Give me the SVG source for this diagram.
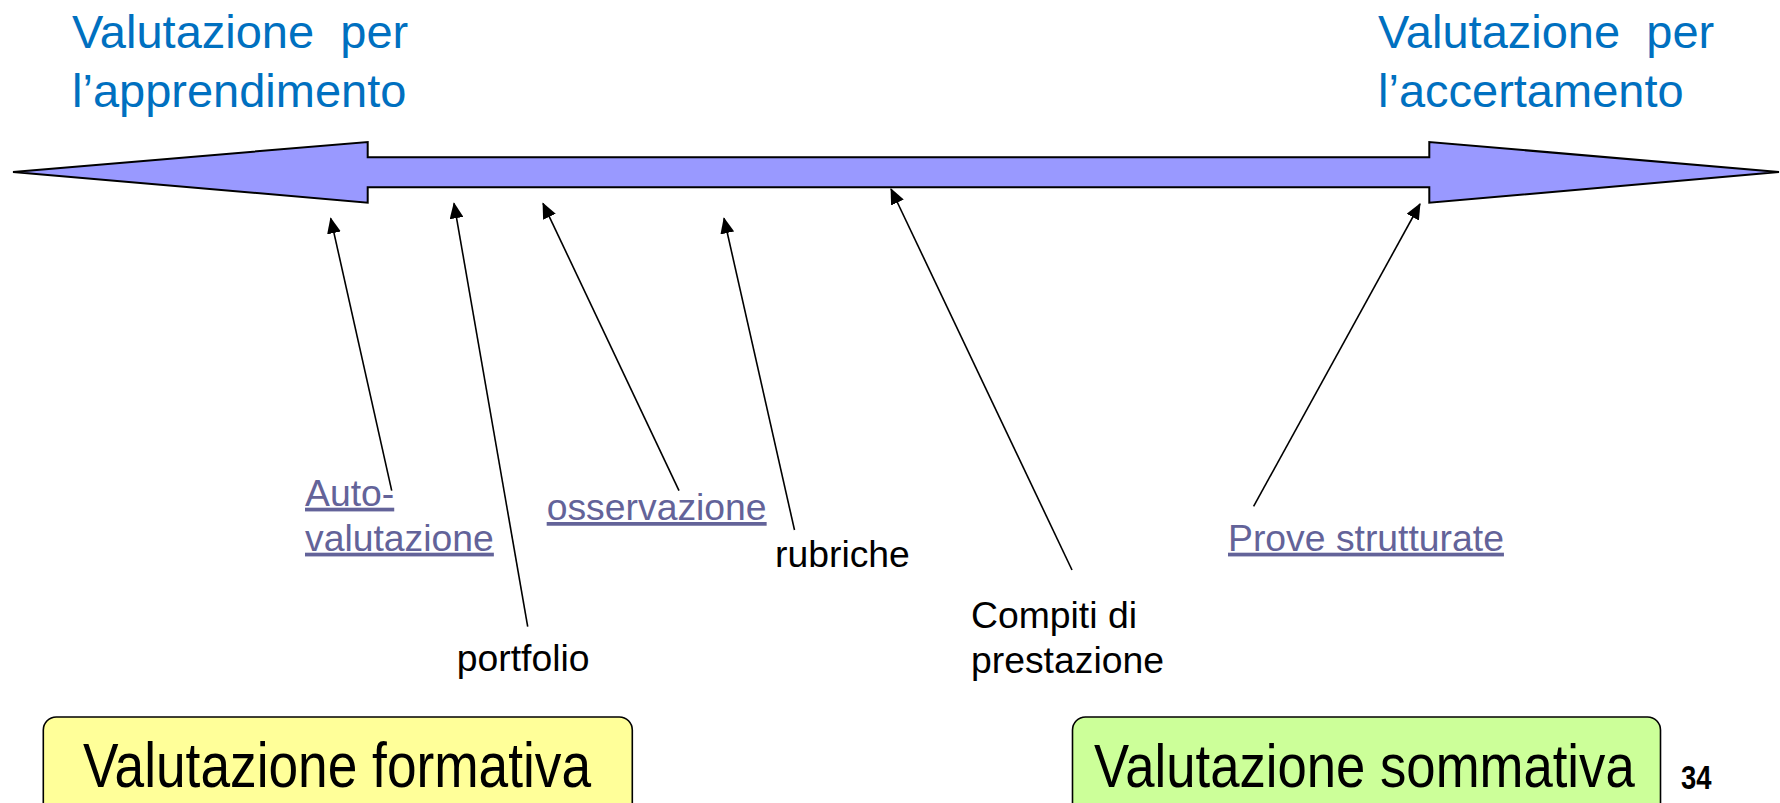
<svg xmlns="http://www.w3.org/2000/svg" width="1780" height="803" viewBox="0 0 1780 803">
<defs>
<style>
.title{font-family:"Liberation Sans",Arial,sans-serif;font-size:47px;fill:#0070C0}
.lbl{font-family:"Liberation Sans",Arial,sans-serif;font-size:37.33px;fill:#000}
.link{font-family:"Liberation Sans",Arial,sans-serif;font-size:37.33px;fill:#636399;text-decoration:underline}
.box{font-family:"Liberation Sans",Arial,sans-serif;font-size:62px;fill:#000}
.conn{stroke:#000;stroke-width:1.6;fill:none;marker-end:url(#ah)}
</style>
<marker id="ah" markerUnits="userSpaceOnUse" markerWidth="16" markerHeight="14" viewBox="0 0 16 14" refX="15" refY="7" orient="auto">
<path d="M0,0 L16,7 L0,14 Z" fill="#000"/>
</marker>
</defs>
<rect width="1780" height="803" fill="#fff"/>
<g id="timeline">
<polygon points="13,172 367.7,142 367.7,157.3 1429.3,157.3 1429.3,142 1779,172 1429.3,202.7 1429.3,187.3 367.7,187.3 367.7,202.7" fill="#9999FF" stroke="#000" stroke-width="2" stroke-linejoin="miter"/>
</g>
<g id="title-left">
<text class="title" x="72" y="48" xml:space="preserve">Valutazione  per</text>
<text class="title" x="72" y="107">l’apprendimento</text>
</g>
<g id="title-right">
<text class="title" x="1378" y="48" xml:space="preserve">Valutazione  per</text>
<text class="title" x="1378" y="107">l’accertamento</text>
</g>
<g id="connectors">
<line class="conn" x1="391.7" y1="490.7" x2="330.7" y2="218.3"/>
<line class="conn" x1="527.7" y1="626.7" x2="454" y2="203.3"/>
<line class="conn" x1="679" y1="490.7" x2="543" y2="203.3"/>
<line class="conn" x1="794.5" y1="530" x2="724" y2="218.3"/>
<line class="conn" x1="1072" y1="570" x2="891" y2="189"/>
<line class="conn" x1="1253.6" y1="506.4" x2="1420" y2="204"/>
</g>
<g id="autovalutazione">
<text class="link" x="305" y="505.7">Auto-</text>
<text class="link" x="305" y="550.7">valutazione</text>
</g>
<g id="portfolio">
<text class="lbl" x="456.7" y="670.7">portfolio</text>
</g>
<g id="osservazione">
<text class="link" x="546.7" y="520">osservazione</text>
</g>
<g id="rubriche">
<text class="lbl" x="775" y="567">rubriche</text>
</g>
<g id="compiti">
<text class="lbl" x="971" y="628">Compiti di</text>
<text class="lbl" x="971" y="673">prestazione</text>
</g>
<g id="prove">
<text class="link" x="1228" y="550.7">Prove strutturate</text>
</g>
<g id="formativa">
<rect x="43.3" y="717" width="589" height="110" rx="13" fill="#FFFF99" stroke="#000" stroke-width="1.6"/>
<text class="box" transform="translate(83,787) scale(0.859,1)" x="0" y="0">Valutazione formativa</text>
</g>
<g id="sommativa">
<rect x="1072.5" y="717" width="588" height="110" rx="13" fill="#CCFF99" stroke="#000" stroke-width="1.6"/>
<text class="box" transform="translate(1094,787) scale(0.85,1)" x="0" y="0">Valutazione sommativa</text>
</g>
<g id="page-number">
<text transform="translate(1681,789) scale(0.83,1)" x="0" y="0" font-family="Liberation Sans,Arial,sans-serif" font-size="33" font-weight="bold" fill="#000">34</text>
</g>
</svg>
